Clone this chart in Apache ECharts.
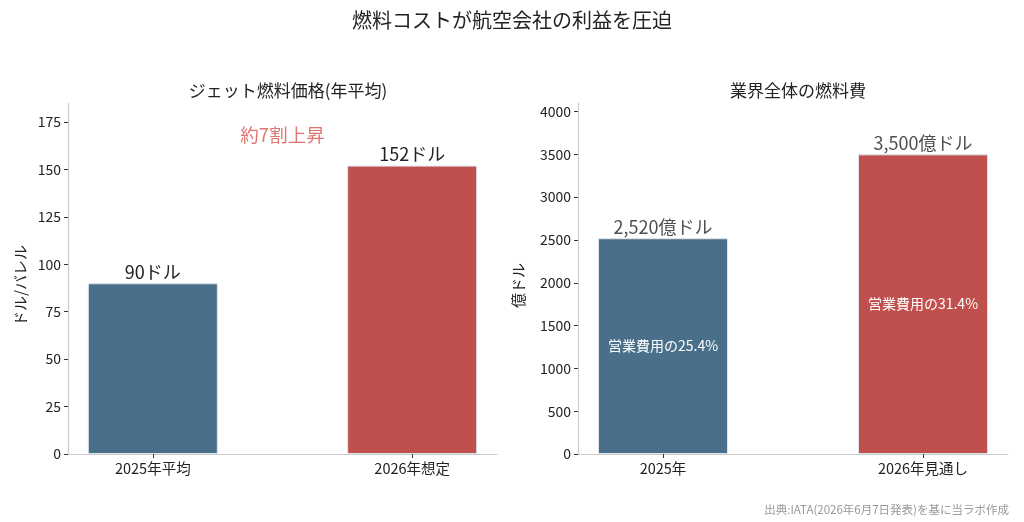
<!DOCTYPE html>
<html>
<head>
<meta charset="utf-8">
<script src="https://cdn.jsdelivr.net/npm/echarts@6/dist/echarts.min.js"></script>
<style>
html, body { margin: 0; padding: 0; background: #fff; }
#main { width: 1024px; height: 522px; }
</style>
</head>
<body>
<div id="main"></div>
<script>
// 左：ジェット燃料価格
const priceCats = ['2025年平均', '2026年想定'];
const priceVals = [90, 152];
const priceLabels = ['90ドル', '152ドル'];
const priceTicks = [0, 25, 50, 75, 100, 125, 150, 175];

// 右：業界全体の燃料費
const costCats = ['2025年', '2026年見通し'];
const costVals = [2520, 3500];
const costLabels = ['2,520億ドル', '3,500億ドル'];
const costShare = ['営業費用の25.4%', '営業費用の31.4%'];
const costTicks = [0, 500, 1000, 1500, 2000, 2500, 3000, 3500, 4000];

const barColors = ['#4a6f8a', '#c0504d'];
const FONT = '"Noto Sans CJK JP", "Noto Sans", sans-serif';

const chart = echarts.init(document.getElementById('main'));

function xAxisOf(gridIndex, cats) {
    return {
        type: 'value', gridIndex: gridIndex, min: -0.327, max: 1.327,
        splitLine: { show: false },
        axisLine: { show: true, onZero: false, lineStyle: { color: '#cccccc', width: 1.2 } },
        axisTick: { show: true, customValues: [0, 1], length: 4, lineStyle: { color: '#333' } },
        axisLabel: {
            customValues: [0, 1], color: '#222', fontSize: 14.5, fontFamily: FONT, margin: 7,
            formatter: v => cats[Math.round(v)]
        }
    };
}

function yAxisOf(gridIndex, max, ticks, name, gap) {
    return {
        type: 'value', gridIndex: gridIndex, min: 0, max: max,
        name: name, nameLocation: 'middle', nameGap: gap,
        nameTextStyle: { color: '#222', fontSize: 15, fontFamily: FONT, padding: [0, 0, 0, -14] },
        splitLine: { show: false },
        axisLine: { show: true, onZero: false, lineStyle: { color: '#cccccc', width: 1.2 } },
        axisTick: { show: true, customValues: ticks, length: 4, lineStyle: { color: '#333' } },
        axisLabel: {
            customValues: ticks, color: '#222', fontSize: 14, fontFamily: FONT, margin: 7,
            formatter: v => String(v)
        }
    };
}

function barData(vals) {
    return vals.map((v, i) => ({
        value: [i, v],
        itemStyle: { color: barColors[i], borderColor: '#dde4ea', borderWidth: 1 }
    }));
}

const option = {
    backgroundColor: '#ffffff',
    animation: false,
    textStyle: { fontFamily: FONT },
    title: [
        { text: '燃料コストが航空会社の利益を圧迫', left: 'center', top: 5,
          textStyle: { fontSize: 20, fontWeight: 'normal', color: '#222', fontFamily: FONT } },
        { text: 'ジェット燃料価格(年平均)', left: 283, top: 77, textAlign: 'center',
          textStyle: { fontSize: 17, fontWeight: 'normal', color: '#222', fontFamily: FONT } },
        { text: '業界全体の燃料費', left: 793, top: 77, textAlign: 'center',
          textStyle: { fontSize: 17, fontWeight: 'normal', color: '#222', fontFamily: FONT } },
        { text: '出典:IATA(2026年6月7日発表)を基に当ラボ作成', right: 10, top: 499,
          textStyle: { fontSize: 11.5, fontWeight: 'normal', color: '#999', fontFamily: FONT } }
    ],
    grid: [
        { left: 68, right: 527, top: 103, bottom: 68 },
        { left: 578, right: 16, top: 103, bottom: 68 }
    ],
    xAxis: [xAxisOf(0, priceCats), xAxisOf(1, costCats)],
    yAxis: [
        yAxisOf(0, 185, priceTicks, 'ドル/バレル', 40),
        yAxisOf(1, 4100, costTicks, '億ドル', 52)
    ],
    series: [
        {
            type: 'bar', xAxisIndex: 0, yAxisIndex: 0, barWidth: 130,
            data: barData(priceVals),
            label: {
                show: true, position: 'top', distance: 2, color: '#222', fontSize: 18, fontFamily: FONT,
                formatter: p => priceLabels[p.dataIndex]
            }
        },
        {
            type: 'scatter', xAxisIndex: 0, yAxisIndex: 0, symbolSize: 0, silent: true,
            data: [[0.5, 168]],
            label: { show: true, position: 'inside', formatter: '約7割上昇', color: '#d4524e', fontSize: 18.5, fontFamily: FONT }
        },
        {
            type: 'bar', xAxisIndex: 1, yAxisIndex: 1, barWidth: 130,
            data: barData(costVals),
            label: {
                show: true, position: 'inside', color: '#ffffff', fontSize: 14, fontFamily: FONT,
                formatter: p => costShare[p.dataIndex]
            }
        },
        {
            type: 'scatter', xAxisIndex: 1, yAxisIndex: 1, symbolSize: 0, silent: true,
            data: costVals.map((v, i) => [i, v]),
            label: {
                show: true, position: 'top', distance: 2, color: '#222', fontSize: 18, fontFamily: FONT,
                formatter: p => costLabels[p.dataIndex]
            }
        }
    ]
};

chart.setOption(option);
</script>
</body>
</html>
